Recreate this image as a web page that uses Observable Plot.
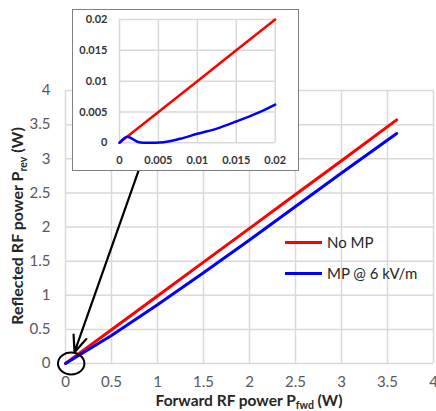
<!DOCTYPE html>
<html>
<head>
<meta charset="utf-8">
<script src="https://cdn.jsdelivr.net/npm/d3@7"></script>
<script src="https://cdn.jsdelivr.net/npm/@observablehq/plot@0.6"></script>
<style>
  html, body { margin: 0; padding: 0; background: #fff; }
  #wrap { position: relative; width: 436px; height: 411px; overflow: hidden; font-family: Lato, "Open Sans", sans-serif; }
  #inset { position: absolute; left: 73px; top: 10px; width: 225px; height: 160px; background: #fff; outline: 1.5px solid #7f7f7f; }
  .leg { position: absolute; height: 3px; width: 37px; }
  .legt { position: absolute; font-size: 15px; line-height: 18px; color: #262626; white-space: nowrap; }
</style>
</head>
<body>
<div id="wrap">
  <div id="main"></div>
  <div id="inset"></div>
  <div class="leg" style="left:285px;top:241px;background:#ff0000"></div>
  <div class="legt" style="left:327px;top:233px">No MP</div>
  <div class="leg" style="left:285px;top:272px;background:#0000ff"></div>
  <div class="legt" style="left:327px;top:264px">MP @ 6 kV/m</div>
</div>
<script>
// ---- Main chart data ----
const mainTicks = [0, 0.5, 1, 1.5, 2, 2.5, 3, 3.5, 4];
const noMP_x = [0, 0.5, 1, 1.5, 2, 2.5, 3, 3.6];
const noMP_y = [0, 0.495, 0.99, 1.485, 1.98, 2.475, 2.97, 3.57];
const mp_x = [0, 0.5, 1, 1.5, 2, 2.5, 3, 3.6];
const mp_y = [0, 0.41, 0.86, 1.33, 1.81, 2.3, 2.79, 3.37];

// ---- Inset data ----
const insetTicks = [0, 0.005, 0.01, 0.015, 0.02];
const insetTickLabels = ["0", "0.005", "0.01", "0.015", "0.02"];
const inNoMP_x = [0, 0.005, 0.01, 0.015, 0.02];
const inNoMP_y = [0, 0.005, 0.01, 0.015, 0.02];
const inMP_x = [0, 0.001, 0.0025, 0.0036, 0.0057, 0.0078, 0.01, 0.0125, 0.0151, 0.0177, 0.02];
const inMP_y = [0, 0.001, 0.0001, 0, 0.0001, 0.00065, 0.00146, 0.0023, 0.0035, 0.0048, 0.0062];

// ---- annotations (data coords) ----
const circleAt = [{x: 0.062, y: 0}];
const arrowSeg = [{x1: 0.827, y1: 2.95, x2: 0.098, y2: 0.166}];

const zip = (xs, ys) => xs.map((x, i) => ({x, y: ys[i]}));
const fmt = d => String(d);

const ellipseSymbol = {
  draw(ctx, size) {
    const r = Math.sqrt(size / Math.PI), a = r * 1.1, b = r * 0.92, k = 0.5523;
    ctx.moveTo(a, 0);
    ctx.bezierCurveTo(a, k * b, k * a, b, 0, b);
    ctx.bezierCurveTo(-k * a, b, -a, k * b, -a, 0);
    ctx.bezierCurveTo(-a, -k * b, -k * a, -b, 0, -b);
    ctx.bezierCurveTo(k * a, -b, a, -k * b, a, 0);
    ctx.closePath();
  }
};

const main = Plot.plot({
  width: 436, height: 411,
  marginLeft: 65, marginRight: 3, marginTop: 90, marginBottom: 48,
  x: {domain: [0, 4]},
  y: {domain: [0, 4]},
  style: {fontFamily: "Lato, 'Open Sans', sans-serif", fontSize: "15px", color: "#595959", background: "transparent", overflow: "visible"},
  marks: [
    Plot.ruleX(mainTicks, {stroke: "#d9d9d9", strokeWidth: 1.5}),
    Plot.ruleY(mainTicks, {stroke: "#d9d9d9", strokeWidth: 1.5}),
    Plot.axisX({ticks: mainTicks, tickFormat: fmt, tickSize: 0, tickPadding: 13, label: null}),
    Plot.axisY({ticks: mainTicks, tickFormat: fmt, tickSize: 0, tickPadding: 15, label: null}),
    Plot.line(zip(noMP_x, noMP_y), {x: "x", y: "y", stroke: "#ff0000", strokeWidth: 3}),
    Plot.line(zip(mp_x, mp_y), {x: "x", y: "y", stroke: "#0000ff", strokeWidth: 3}),
    Plot.dot(circleAt, {x: "x", y: "y", r: 12, symbol: ellipseSymbol, fill: "none", stroke: "#000", strokeWidth: 2}),
    Plot.arrow(arrowSeg, {x1: "x1", y1: "y1", x2: "x2", y2: "y2", stroke: "#000", strokeWidth: 2.2, headLength: 12, headAngle: 45})
  ]
});
document.getElementById("main").appendChild(main);

const svg = d3.select(main);
// x title
const xt = svg.append("text").attr("x", 249).attr("y", 406).attr("text-anchor", "middle")
  .attr("font-size", 15.5).attr("font-weight", "bold").attr("fill", "#262626");
xt.append("tspan").text("Forward RF power P");
xt.append("tspan").attr("font-size", 10.5).attr("dy", 2.5).text("fwd");
xt.append("tspan").attr("dy", -2.5).text(" (W)");
// y title
const yt = svg.append("text").attr("transform", "translate(23,226) rotate(-90)").attr("text-anchor", "middle")
  .attr("font-size", 16).attr("font-weight", "bold").attr("fill", "#262626");
yt.append("tspan").text("Reflected RF power P");
yt.append("tspan").attr("font-size", 10.5).attr("dy", 4).text("rev");
yt.append("tspan").attr("dy", -4).text(" (W)");

const inset = Plot.plot({
  width: 225, height: 160,
  marginLeft: 46, marginRight: 23.3, marginTop: 9, marginBottom: 27.7,
  x: {domain: [0, 0.02]},
  y: {domain: [0, 0.02]},
  style: {fontFamily: "Lato, 'Open Sans', sans-serif", fontSize: "11px", fontWeight: "bold", color: "#333333", background: "transparent", overflow: "visible"},
  marks: [
    Plot.ruleX(insetTicks, {stroke: "#d9d9d9", strokeWidth: 1.5}),
    Plot.ruleY(insetTicks, {stroke: "#d9d9d9", strokeWidth: 1.5}),
    Plot.axisX({ticks: insetTicks, tickFormat: (d, i) => insetTickLabels[i], tickSize: 0, tickPadding: 13, label: null}),
    Plot.axisY({ticks: insetTicks, tickFormat: (d, i) => insetTickLabels[i], tickSize: 0, tickPadding: 12, label: null}),
    Plot.line(zip(inNoMP_x, inNoMP_y), {x: "x", y: "y", stroke: "#ff0000", strokeWidth: 2.5}),
    Plot.line(zip(inMP_x, inMP_y), {x: "x", y: "y", stroke: "#0000ff", strokeWidth: 2.5, curve: "monotone-x"})
  ]
});
document.getElementById("inset").appendChild(inset);
</script>
</body>
</html>
